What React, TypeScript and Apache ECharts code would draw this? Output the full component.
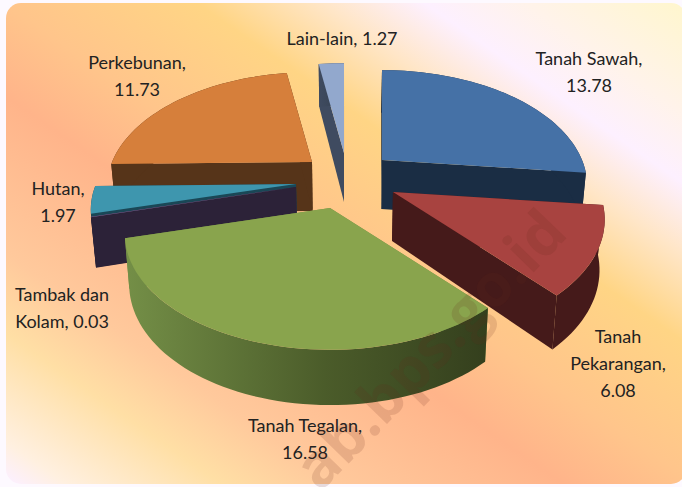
import React, { useEffect, useRef } from "react";
import * as echarts from "echarts";

const categories = ["Tanah Sawah", "Tanah\nPekarangan", "Tanah Tegalan", "Tambak dan\nKolam", "Hutan", "Perkebunan", "Lain-lain"];
const values = [13.78, 6.08, 16.58, 0.03, 1.97, 11.73, 1.27];
const labelSeparators = [",\n", ",\n", ",\n", ", ", ",\n", ",\n", ", "];
const topColors = ["#4571A6", "#A84340", "#89A44D", "#80699B", "#3E96AE", "#D67F3B", "#92A8CD"];
const wallLeftColors = ["#1A2D44", "#451A1A", "#748F47", "#2C2238", "#1A4756", "#563419", "#3F4B60"];
const wallMidColors = ["#1A2D44", "#451A1A", "#4B5C2A", "#2C2238", "#1A4756", "#563419", "#394557"];
const wallRightColors = ["#1A2D44", "#451A1A", "#343F1D", "#2C2238", "#1A4756", "#563419", "#333C4D"];

// Layout only: where each exploded slice's apex sits, its size factor, paint order, label anchors.
const apexX = [382, 393, 330, 296, 296, 312, 344];
const apexY = [160, 192, 208, 187, 184, 162, 153];
const radiusScale = [1, 1.03, 1, 1, 1, 1, 1];
const paintOrder = [6, 5, 0, 4, 3, 1, 2];
const labelX = [589, 618, 305, 62, 58, 137, 342];
const labelY = [71, 363, 438, 307, 201, 75, 38];

const W = 682;
const H = 487;
const RX = 200;
const RY = 110;
const PERSPECTIVE = 0.224;
const DEPTH = 49;
const START_ANGLE = 0;
const CENTER_X = 345;
const total = values.reduce((a, b) => a + b, 0);

function angleRange(i: number): [number, number] {
  let before = 0;
  for (let k = 0; k < i; k++) before += values[k];
  return [START_ANGLE + (before / total) * 360, START_ANGLE + ((before + values[i]) / total) * 360];
}

function project(i: number, deg: number, radius: number) {
  const t = (deg * Math.PI) / 180;
  const u = Math.sin(t) * radius * radiusScale[i];
  const v = -Math.cos(t) * radius * radiusScale[i];
  const s = 1 / (1 - PERSPECTIVE * v);
  const x = apexX[i] + RX * u * s;
  const y = apexY[i] + RY * v * s;
  const h = DEPTH * (1 + 0.13 * v);
  const bx = CENTER_X + (x - CENTER_X) * 0.98;
  return { top: [x, y], bottom: [bx, y + h] };
}

function renderSlice(params: any) {
  const i = paintOrder[params.dataIndex];
  const [a0, a1] = angleRange(i);
  const steps = Math.max(2, Math.ceil((a1 - a0) / 2));
  const arc: { top: number[]; bottom: number[] }[] = [];
  for (let k = 0; k <= steps; k++) arc.push(project(i, a0 + ((a1 - a0) * k) / steps, 1));
  const apex = project(i, 0, 0);
  const first = arc[0];
  const last = arc[arc.length - 1];
  const plain = wallLeftColors[i];
  const wallFill =
    wallLeftColors[i] === wallRightColors[i]
      ? plain
      : new echarts.graphic.LinearGradient(0, 0, 1, 0, [
          { offset: 0, color: wallLeftColors[i] },
          { offset: 0.55, color: wallMidColors[i] },
          { offset: 1, color: wallRightColors[i] },
        ]);
  return {
    type: "group",
    children: [
      { type: "polygon", shape: { points: [apex.top, first.top, first.bottom, apex.bottom] }, style: { fill: plain } },
      { type: "polygon", shape: { points: [apex.top, last.top, last.bottom, apex.bottom] }, style: { fill: plain } },
      {
        type: "polygon",
        shape: { points: [...arc.map((p) => p.top), ...arc.slice().reverse().map((p) => p.bottom)] },
        style: { fill: wallFill },
      },
      {
        type: "polygon",
        shape: { points: [apex.top, ...arc.map((p) => p.top)] },
        style: { fill: topColors[i] },
      },
    ],
  };
}

const labelElements = categories.map((c, i) => ({
  type: "text",
  x: labelX[i],
  y: labelY[i],
  z: 20,
  silent: true,
  style: {
    text: `${c}${labelSeparators[i]}${values[i].toFixed(2)}`,
    fontFamily: "Lato",
    fontSize: 18,
    lineHeight: 27,
    fill: "#222222",
    align: "center",
    verticalAlign: "middle",
  },
}));

export default function App() {
  const ref = useRef<HTMLDivElement>(null);
  useEffect(() => {
    const chart = echarts.init(ref.current!, undefined, { renderer: "svg" });
    chart.setOption({
      animation: false,
      backgroundColor: "#FDF9FF",
      graphic: {
        elements: [
          {
            type: "rect",
            z: -10,
            silent: true,
            shape: { x: 6, y: 3, width: 680, height: 481, r: 15 },
            style: {
              fill: {
                type: "linear",
                global: true,
                x: 123,
                y: 561,
                x2: 564,
                y2: -74,
                colorStops: [
                  { offset: 0, color: "#FCF0FF" },
                  { offset: 0.04, color: "#FFF0E0" },
                  { offset: 0.155, color: "#FFDFA5" },
                  { offset: 0.24, color: "#FFC99C" },
                  { offset: 0.407, color: "#FFB48A" },
                  { offset: 0.505, color: "#FFC58B" },
                  { offset: 0.647, color: "#FFD585" },
                  { offset: 0.74, color: "#FFE6C8" },
                  { offset: 0.815, color: "#FDF0FF" },
                  { offset: 0.89, color: "#FFF3EA" },
                  { offset: 1, color: "#FFF6CF" },
                ],
              },
            },
          },
          ...labelElements,
          {
            type: "text",
            x: 553,
            y: 219,
            z: 30,
            rotation: (46 * Math.PI) / 180,
            silent: true,
            style: {
              text: "ab.bps.go.id",
              fontFamily: "Open Sans",
              fontWeight: "bold",
              fontSize: 60,
              fill: "rgba(100,40,30,0.15)",
              align: "right",
              verticalAlign: "middle",
            },
          },
        ],
      },
      series: [
        {
          type: "custom",
          coordinateSystem: "none",
          renderItem: renderSlice,
          data: paintOrder.map((i) => values[i]),
          silent: true,
        },
      ],
    });
    return () => chart.dispose();
  }, []);
  return (
    <div style={{ position: "fixed", left: 0, top: 0, width: W, height: H }}>
      <div ref={ref} style={{ width: W, height: H }} />
    </div>
  );
}
